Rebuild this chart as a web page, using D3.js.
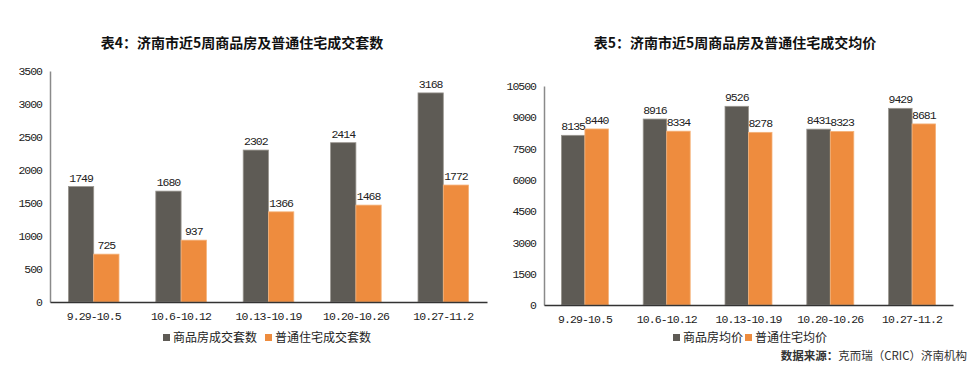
<!DOCTYPE html>
<html><head><meta charset="utf-8">
<script src="https://cdn.jsdelivr.net/npm/d3@7"></script>
<style>
body{margin:0;background:#fff;}
svg{display:block;}
</style></head>
<body><svg id="c" width="978" height="369"></svg>
<script>
const categories = ["9.29-10.5","10.6-10.12","10.13-10.19","10.20-10.26","10.27-11.2"];
const countCommercial = [1749,1680,2302,2414,3168];
const countOrdinary = [725,937,1366,1468,1772];
const priceCommercial = [8135,8916,9526,8431,9429];
const priceOrdinary = [8440,8334,8278,8323,8681];
const countTicks = [0,500,1000,1500,2000,2500,3000,3500];
const priceTicks = [0,1500,3000,4500,6000,7500,9000,10500];
const title4 = "表4：济南市近5周商品房及普通住宅成交套数";
const title5 = "表5：济南市近5周商品房及普通住宅成交均价";
const legend4 = ["商品房成交套数","普通住宅成交套数"];
const legend5 = ["商品房均价","普通住宅均价"];
const colors = ["#5e5b55","#ee8c3e"];
const strokeCols = ["#9a968f","#f5b27a"];

const svg = d3.select("#c");
const numFont = "'Liberation Mono', 'DejaVu Sans Mono', monospace";
const cjkFont = "'Noto Sans CJK SC', sans-serif";

function drawChart(cfg){
  const g = svg.append("g");
  const x = d3.scaleBand().domain(categories).range([cfg.x0, cfg.x1]);
  const y = d3.scaleLinear().domain([0, cfg.max]).range([cfg.y0, cfg.y1]);
  const bw = cfg.bw;
  g.append("text").attr("x", cfg.tx).attr("y", cfg.ty).attr("text-anchor","middle")
    .attr("font-family", cjkFont).attr("font-weight","bold").attr("font-size", 14).attr("fill","#111")
    .text(cfg.title);
  const ya = g.append("g").attr("transform", `translate(${cfg.x0},0)`)
    .call(d3.axisLeft(y).tickValues(cfg.ticks).tickFormat(d3.format("d")).tickSize(0).tickPadding(8));
  ya.select(".domain").attr("stroke","#8a8a8a").attr("stroke-width",1.5);
  ya.selectAll("text").attr("font-family", numFont).attr("font-size", 11.5).attr("letter-spacing","-1px").attr("fill","#222");
  const series = [cfg.a, cfg.b];
  series.forEach((vals, si) => {
    g.selectAll(null).data(vals).enter().append("rect")
      .attr("x", (d,i) => x(categories[i]) + x.bandwidth()/2 - bw + si*bw)
      .attr("y", d => y(d))
      .attr("width", bw)
      .attr("height", d => cfg.y0 - y(d))
      .attr("fill", colors[si])
      .attr("stroke", strokeCols[si]).attr("stroke-width", 0.8);
    g.selectAll(null).data(vals).enter().append("text")
      .attr("x", (d,i) => x(categories[i]) + x.bandwidth()/2 - bw/2 + si*bw)
      .attr("y", d => y(d) - 5)
      .attr("text-anchor","middle")
      .attr("font-family", numFont).attr("font-size", 11.5).attr("letter-spacing","-1px").attr("fill","#222")
      .text(d => d);
  });
  const xa = g.append("g").attr("transform", `translate(0,${cfg.y0})`)
    .call(d3.axisBottom(x).tickSize(0).tickPadding(10));
  xa.select(".domain").attr("stroke","#333").attr("stroke-width",1.5);
  xa.selectAll("text").attr("font-family", numFont).attr("font-size", 11.5).attr("letter-spacing","-0.9px").attr("fill","#222");
  cfg.legend.forEach((t, i) => {
    const lx = cfg.lx[i];
    g.append("rect").attr("x", lx).attr("y", cfg.ly - 8).attr("width", 7).attr("height", 7).attr("fill", colors[i]);
    g.append("text").attr("x", lx + 10).attr("y", cfg.ly).attr("font-family", cjkFont).attr("font-size", 12).attr("fill","#222").text(t);
  });
}

drawChart({x0:50, x1:487, y0:302, y1:71, max:3500, ticks:countTicks, bw:25.3,
  a:countCommercial, b:countOrdinary, title:title4, tx:242, ty:48, legend:legend4, lx:[163,265], ly:342});
drawChart({x0:544, x1:953, y0:305, y1:86, max:10500, ticks:priceTicks, bw:23.5,
  a:priceCommercial, b:priceOrdinary, title:title5, tx:735, ty:48, legend:legend5, lx:[673,745], ly:342});

const src = svg.append("text").attr("x", 967).attr("y", 360).attr("text-anchor","end")
  .attr("font-family", cjkFont).attr("font-size", 11.5).attr("fill","#333");
src.append("tspan").attr("font-weight","bold").text("数据来源：");
src.append("tspan").text("克而瑞（CRIC）济南机构");
</script></body></html>
